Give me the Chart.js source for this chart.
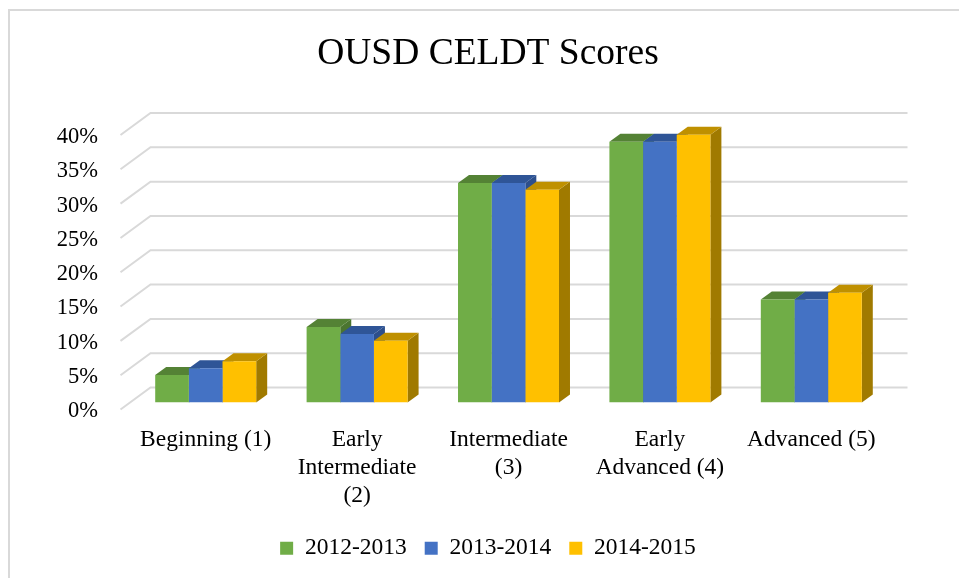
<!DOCTYPE html>
<html>
<head>
<meta charset="utf-8">
<script src="https://cdn.jsdelivr.net/npm/chart.js@4"></script>
<style>
  html, body { margin: 0; padding: 0; background: #fff; }
  #wrap { width: 959px; height: 578px; }
</style>
</head>
<body>
<div id="wrap"><canvas id="celdtChart" width="959" height="578"></canvas></div>
<script>
const categories = [
  'Beginning (1)',
  ['Early', 'Intermediate', '(2)'],
  ['Intermediate', '(3)'],
  ['Early', 'Advanced (4)'],
  'Advanced (5)'
];
const seriesNames = ['2012-2013', '2013-2014', '2014-2015'];
const scores2012 = [4, 11, 32, 38, 15];
const scores2013 = [5, 10, 32, 38, 15];
const scores2014 = [6, 9, 31, 39, 16];
const yTicks = [0, 5, 10, 15, 20, 25, 30, 35, 40];

const fronts = ['#70AD47', '#4472C4', '#FFC000'];
const tops = ['#548235', '#2F5597', '#BF9000'];
const sides = ['#4B7530', '#2D4F8C', '#A07A00'];

const serif = "'Liberation Serif', 'Times New Roman', serif";
const DEPTH_X = 11, DEPTH_Y = 8;

// draws the 3d walls, grid and the bar tops/sides behind the front faces
const bars3d = {
  id: 'bars3d',
  beforeDraw(chart) {
    const ctx = chart.ctx;
    ctx.save();
    ctx.strokeStyle = '#D9D9D9';
    ctx.lineWidth = 2;
    ctx.beginPath();
    ctx.moveTo(9, 578);
    ctx.lineTo(9, 10);
    ctx.lineTo(959, 10);
    ctx.stroke();
    ctx.restore();
  },
  beforeDatasetsDraw(chart) {
    const ctx = chart.ctx;
    const area = chart.chartArea;
    const y = chart.scales.y;
    ctx.save();
    ctx.strokeStyle = '#D9D9D9';
    ctx.lineWidth = 2;
    yTicks.forEach(v => {
      const py = y.getPixelForValue(v);
      ctx.beginPath();
      ctx.moveTo(area.left - 9.5, py + 7);
      ctx.lineTo(area.left + 20.5, py - 15);
      ctx.lineTo(area.right + 20.5, py - 15);
      ctx.stroke();
    });
    const n = chart.data.labels.length;
    for (let i = 0; i < n; i++) {
      chart.data.datasets.forEach((ds, d) => {
        const bar = chart.getDatasetMeta(d).data[i];
        const p = bar.getProps(['x', 'y', 'base', 'width'], true);
        const xl = p.x - p.width / 2, xr = p.x + p.width / 2;
        ctx.fillStyle = sides[d];
        ctx.beginPath();
        ctx.moveTo(xr, p.y);
        ctx.lineTo(xr + DEPTH_X, p.y - DEPTH_Y);
        ctx.lineTo(xr + DEPTH_X, p.base - DEPTH_Y);
        ctx.lineTo(xr, p.base);
        ctx.closePath();
        ctx.fill();
        ctx.fillStyle = tops[d];
        ctx.beginPath();
        ctx.moveTo(xl, p.y);
        ctx.lineTo(xl + DEPTH_X, p.y - DEPTH_Y);
        ctx.lineTo(xr + DEPTH_X, p.y - DEPTH_Y);
        ctx.lineTo(xr, p.y);
        ctx.closePath();
        ctx.fill();
      });
    }
    ctx.restore();
  }
};

new Chart(document.getElementById('celdtChart').getContext('2d'), {
  type: 'bar',
  data: {
    labels: categories,
    datasets: [
      { label: seriesNames[0], data: scores2012, backgroundColor: fronts[0] },
      { label: seriesNames[1], data: scores2013, backgroundColor: fronts[1] },
      { label: seriesNames[2], data: scores2014, backgroundColor: fronts[2] }
    ]
  },
  options: {
    responsive: false,
    animation: false,
    categoryPercentage: 0.667,
    barPercentage: 1.0,
    layout: { padding: { top: 10, right: 0, bottom: 8, left: 17 } },
    scales: {
      x: {
        grid: { display: false },
        border: { display: false },
        ticks: {
          color: '#000',
          maxRotation: 0,
          autoSkip: false,
          padding: 15,
          font: { family: serif, size: 23.5, lineHeight: 1.19 }
        },
        afterFit(scale) { scale.height = 116; }
      },
      y: {
        min: 0,
        max: 40,
        grid: { display: false },
        border: { display: false },
        ticks: {
          stepSize: 5,
          color: '#000',
          padding: 24,
          labelOffset: 9,
          font: { family: serif, size: 22.5 },
          callback: v => v + '%'
        },
        afterFit(scale) { scale.width = 113; }
      },
      yRight: {
        type: 'linear',
        position: 'right',
        grid: { display: false },
        border: { display: false },
        ticks: { display: false },
        afterFit(scale) { scale.width = 72; }
      }
    },
    plugins: {
      title: {
        display: true,
        text: 'OUSD CELDT Scores',
        color: '#000',
        font: { family: serif, size: 37.5, weight: 'normal' },
        padding: { top: 22, bottom: 51 }
      },
      legend: {
        position: 'bottom',
        labels: {
          color: '#000',
          boxWidth: 13,
          boxHeight: 13,
          padding: 18,
          font: { family: serif, size: 23.5 }
        }
      },
      tooltip: { enabled: false }
    }
  },
  plugins: [bars3d]
});
</script>
</body>
</html>
